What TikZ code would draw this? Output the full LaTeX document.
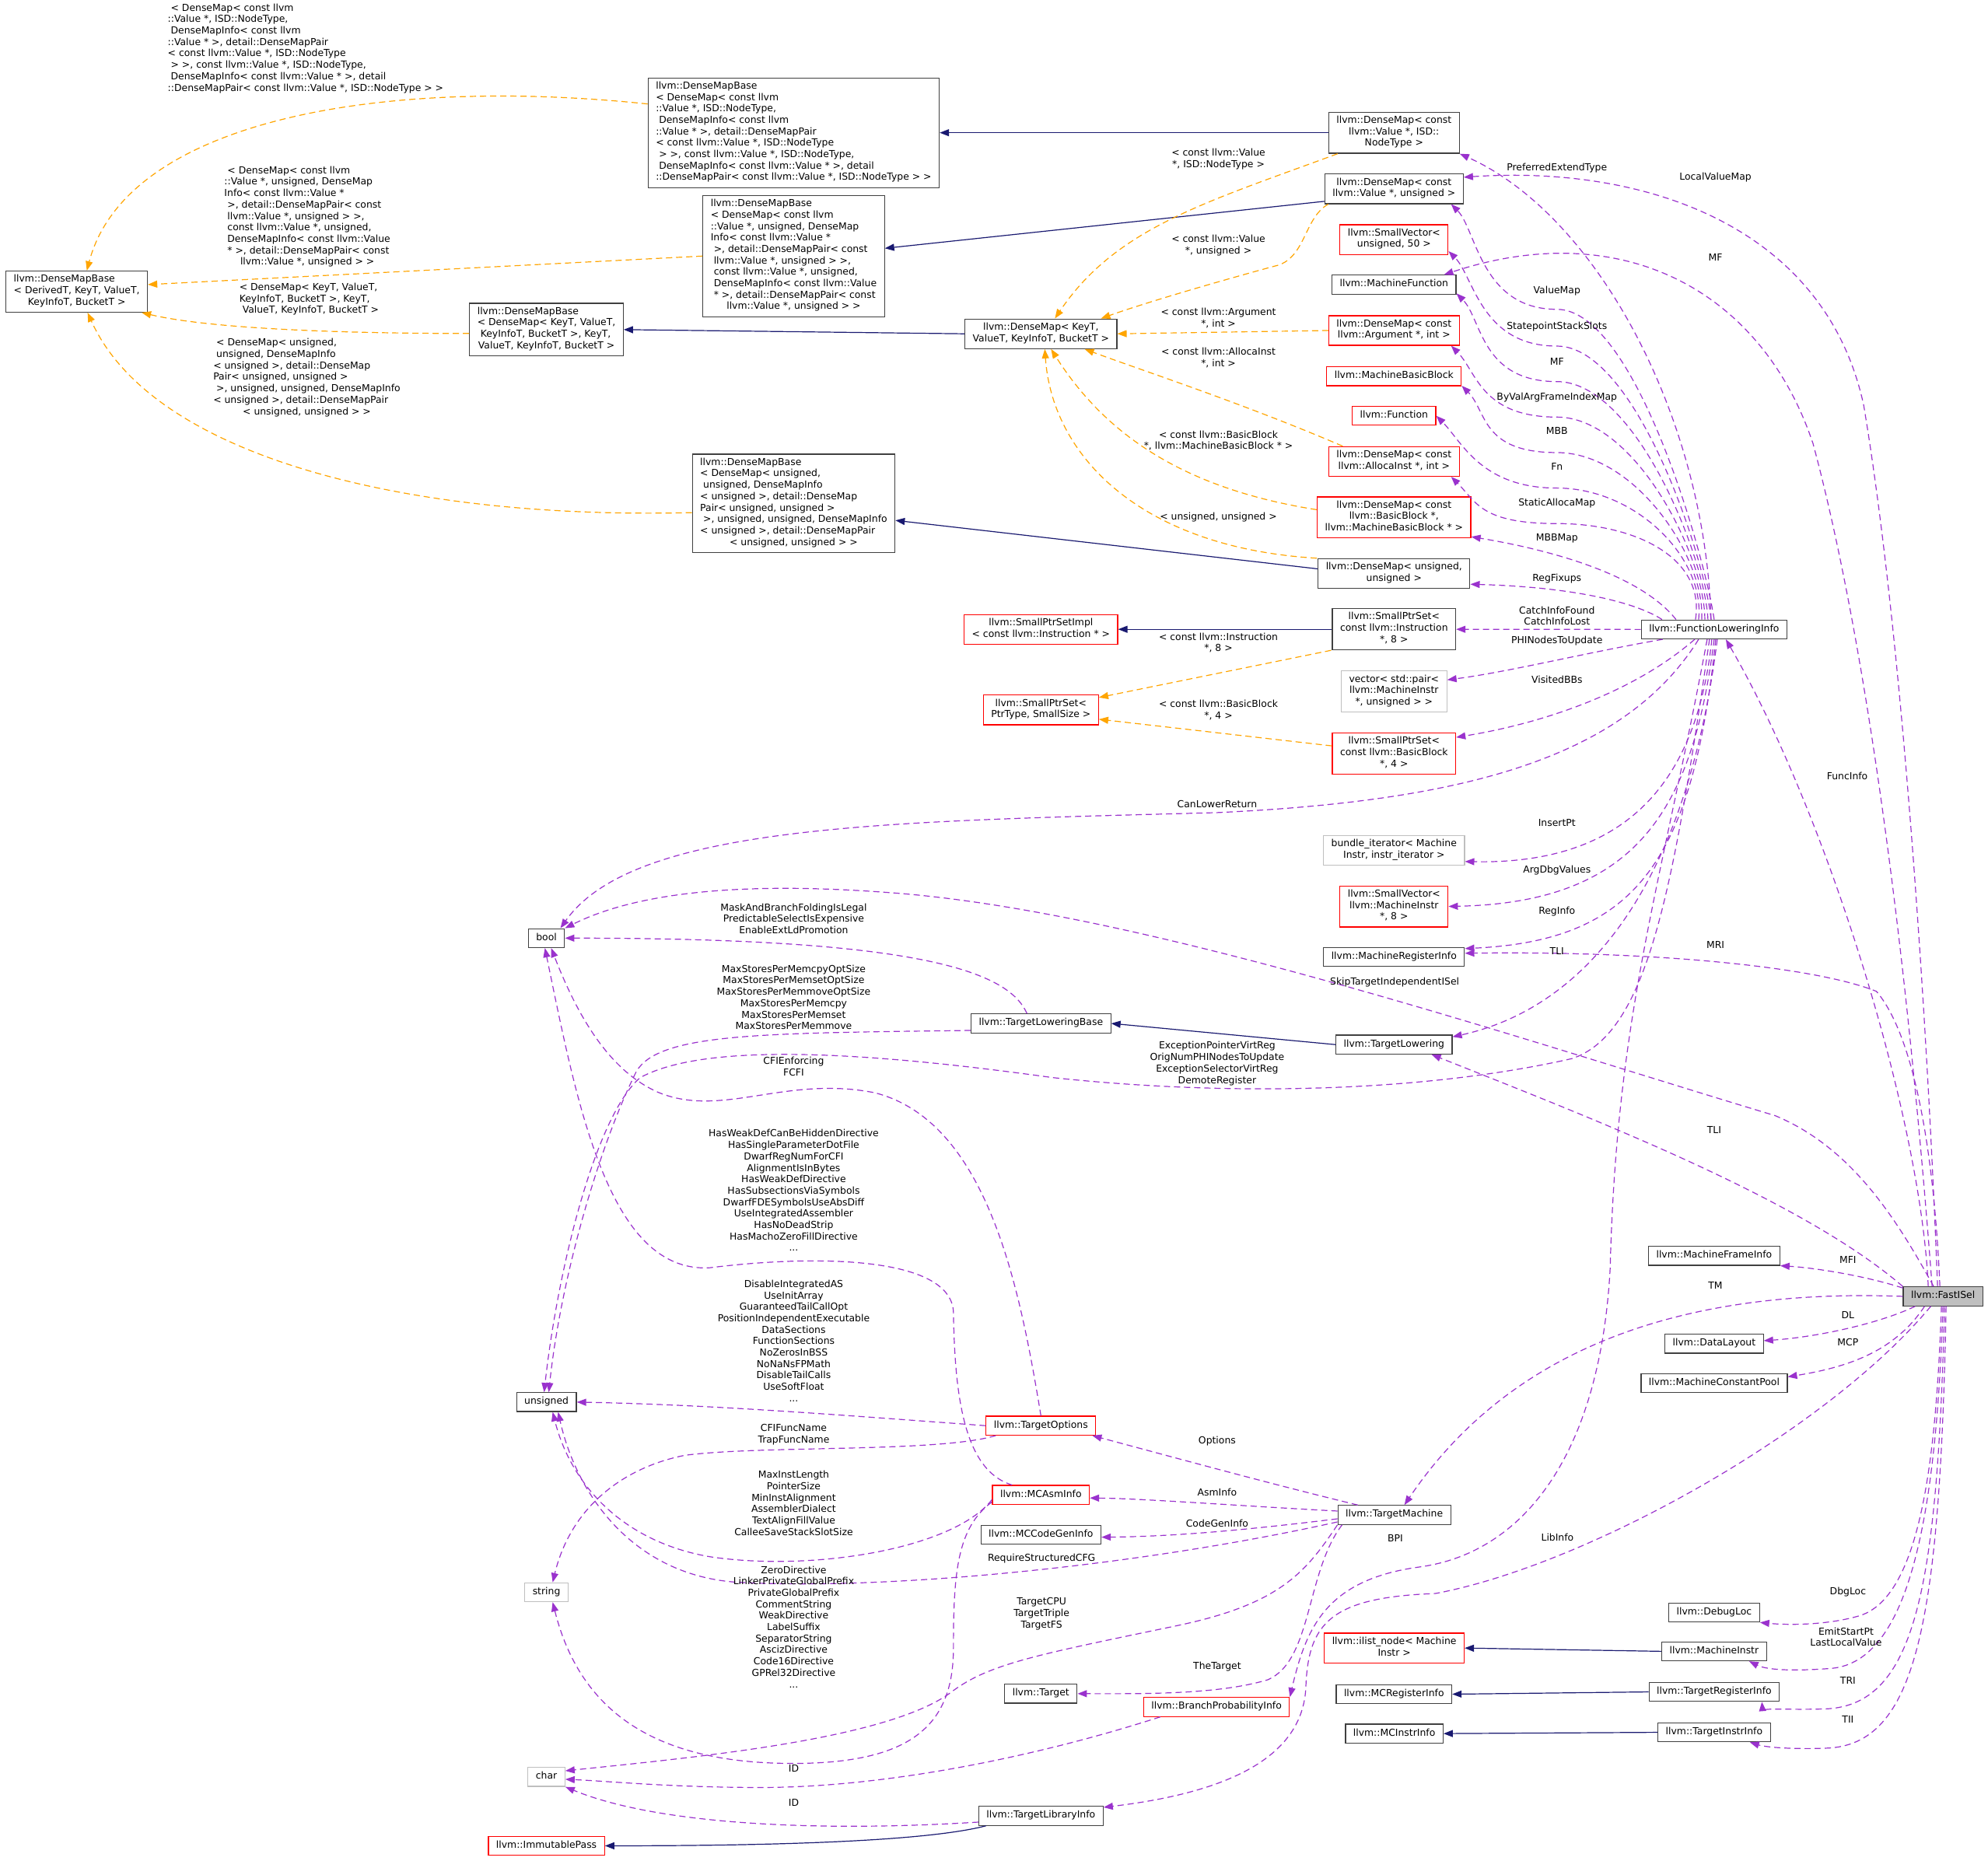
\documentclass[tikz,border=0pt]{standalone}
\usepackage{fontspec}
\setmainfont{DejaVu Sans}
\usetikzlibrary{arrows.meta}
\definecolor{inheritc}{HTML}{191970}
\definecolor{tmplc}{HTML}{FFA500}
\definecolor{usec}{HTML}{9A32CD}
\definecolor{boxline}{HTML}{404040}
\definecolor{redline}{HTML}{FF0000}
\definecolor{grayline}{HTML}{BFBFBF}
\newcommand{\gfont}{\fontsize{12.4pt}{14.7pt}\selectfont}

\begin{document}
\begin{tikzpicture}[x=1.63pt, y=-1.63pt,
  cls/.style={draw=boxline, line width=1.2pt, fill=white, font=\gfont, align=center,
    inner xsep=10pt, inner ysep=4.8pt, execute at begin node=\strut, execute at end node=\strut},
  clsleft/.style={cls, align=left},
  clsred/.style={cls, draw=redline},
  clsgray/.style={cls, draw=grayline},
  clsself/.style={cls, fill=grayline},
  elbl/.style={font=\gfont, align=center, inner sep=0pt,
    execute at begin node=\strut, execute at end node=\strut},
  elblleft/.style={elbl, align=left},
  inherit/.style={draw=inheritc, line width=1.2pt, -{Triangle[length=12pt,width=9pt]}},
  tmpl/.style={draw=tmplc, line width=1.2pt, dash pattern=on 8pt off 5pt, -{Triangle[length=12pt,width=9pt]}},
  usage/.style={draw=usec, line width=1.2pt, dash pattern=on 8pt off 5pt, -{Triangle[length=12pt,width=9pt]}}]

  \fill[white] (0,0) rectangle (1568,1468);

  % DenseMap family
  \node[clsleft] (dmbBase) at (60.5,230) {llvm::DenseMapBase\\< DerivedT, KeyT, ValueT,\\\hfil KeyInfoT, BucketT >};
  \node[clsleft] (dmbValISD) at (626,104.7) {llvm::DenseMapBase\\< DenseMap< const llvm\\::Value *, ISD::NodeType,\\\ DenseMapInfo< const llvm\\::Value * >, detail::DenseMapPair\\< const llvm::Value *, ISD::NodeType\\\ > >, const llvm::Value *, ISD::NodeType,\\\ DenseMapInfo< const llvm::Value * >, detail\\\hfil::DenseMapPair< const llvm::Value *, ISD::NodeType > >};
  \node[clsleft] (dmbValUns) at (626,202) {llvm::DenseMapBase\\< DenseMap< const llvm\\::Value *, unsigned, DenseMap\\Info< const llvm::Value *\\\ >, detail::DenseMapPair< const\\\ llvm::Value *, unsigned > >,\\\ const llvm::Value *, unsigned,\\\ DenseMapInfo< const llvm::Value\\\ * >, detail::DenseMapPair< const\\\hfil llvm::Value *, unsigned > >};
  \node[clsleft] (dmbKey) at (431,260) {llvm::DenseMapBase\\< DenseMap< KeyT, ValueT,\\\ KeyInfoT, BucketT >, KeyT,\\\hfil ValueT, KeyInfoT, BucketT >};
  \node[clsleft] (dmbUns) at (626,397) {llvm::DenseMapBase\\< DenseMap< unsigned,\\\ unsigned, DenseMapInfo\\< unsigned >, detail::DenseMap\\Pair< unsigned, unsigned >\\\ >, unsigned, unsigned, DenseMapInfo\\< unsigned >, detail::DenseMapPair\\\hfil< unsigned, unsigned > >};
  \node[cls] (dmKey) at (821,263.3) {llvm::DenseMap< KeyT,\\ValueT, KeyInfoT, BucketT >};

  % members of FunctionLoweringInfo
  \node[cls] (dmValISD) at (1099.5,104.7) {llvm::DenseMap< const\\llvm::Value *, ISD::\\NodeType >};
  \node[cls] (dmValUns) at (1099.5,149) {llvm::DenseMap< const\\llvm::Value *, unsigned >};
  \node[clsred] (svUns50) at (1099.5,189) {llvm::SmallVector<\\unsigned, 50 >};
  \node[cls] (mFunc) at (1099.5,224.5) {llvm::MachineFunction};
  \node[clsred] (dmArg) at (1099.5,260.7) {llvm::DenseMap< const\\llvm::Argument *, int >};
  \node[clsred] (mbb) at (1099.5,296.8) {llvm::MachineBasicBlock};
  \node[clsred] (func) at (1099.5,328) {llvm::Function};
  \node[clsred] (dmAlloca) at (1099.5,364) {llvm::DenseMap< const\\llvm::AllocaInst *, int >};
  \node[clsred] (dmBB) at (1099.5,408.2) {llvm::DenseMap< const\\llvm::BasicBlock *,\\llvm::MachineBasicBlock * >};
  \node[cls] (dmUns) at (1099.5,452.4) {llvm::DenseMap< unsigned,\\unsigned >};
  \node[cls] (spsInstr) at (1099.5,496.4) {llvm::SmallPtrSet<\\const llvm::Instruction\\{}*, 8 >};
  \node[clsgray] (vecPair) at (1099.5,545.5) {vector< std::pair<\\llvm::MachineInstr\\{}*, unsigned > >};
  \node[clsred] (spsBB) at (1099.5,594.5) {llvm::SmallPtrSet<\\const llvm::BasicBlock\\{}*, 4 >};
  \node[clsgray] (bundleIt) at (1099.5,671) {bundle\_iterator< Machine\\Instr, instr\_iterator >};
  \node[clsred] (svMI) at (1099.5,715) {llvm::SmallVector<\\llvm::MachineInstr\\{}*, 8 >};
  \node[cls] (mri) at (1099.5,755) {llvm::MachineRegisterInfo};
  \node[cls] (tl) at (1099.5,824) {llvm::TargetLowering};
  \node[cls] (fli) at (1352,496.5) {llvm::FunctionLoweringInfo};

  % left and middle columns
  \node[clsred] (spsImpl) at (821,496.4) {llvm::SmallPtrSetImpl\\< const llvm::Instruction * >};
  \node[clsred] (spsT) at (821,560) {llvm::SmallPtrSet<\\PtrType, SmallSize >};
  \node[cls] (bool) at (431,740) {bool};
  \node[cls] (tlb) at (821,807.3) {llvm::TargetLoweringBase};
  \node[cls] (unsigned) at (431,1106) {unsigned};
  \node[clsred] (tOpts) at (821,1124.6) {llvm::TargetOptions};
  \node[clsred] (mcAsm) at (821,1179.2) {llvm::MCAsmInfo};
  \node[cls] (mcCG) at (821,1210.7) {llvm::MCCodeGenInfo};
  \node[clsgray] (string) at (431,1256) {string};
  \node[cls] (target) at (821,1336) {llvm::Target};
  \node[clsred] (bpi) at (959.5,1346.5) {llvm::BranchProbabilityInfo};
  \node[clsgray] (char) at (431,1401.7) {char};
  \node[cls] (tli) at (821,1432.4) {llvm::TargetLibraryInfo};
  \node[clsred] (immPass) at (431,1456) {llvm::ImmutablePass};
  \node[cls] (tm) at (1099.7,1195) {llvm::TargetMachine};

  % right column
  \node[cls] (mfi) at (1352,990.6) {llvm::MachineFrameInfo};
  \node[clsself] (fastISel) at (1532.5,1022.6) {llvm::FastISel};
  \node[cls] (dl) at (1352,1060) {llvm::DataLayout};
  \node[cls] (mcp) at (1352,1091) {llvm::MachineConstantPool};
  \node[cls] (dbgLoc) at (1352,1272) {llvm::DebugLoc};
  \node[cls] (mInstr) at (1352,1302.6) {llvm::MachineInstr};
  \node[clsred] (ilist) at (1099.7,1300) {llvm::ilist\_node< Machine\\Instr >};
  \node[cls] (tri) at (1352,1334.6) {llvm::TargetRegisterInfo};
  \node[cls] (mcRI) at (1099.5,1336.4) {llvm::MCRegisterInfo};
  \node[cls] (tii) at (1352,1366.5) {llvm::TargetInstrInfo};
  \node[cls] (mcII) at (1099.7,1367.5) {llvm::MCInstrInfo};

  % inheritance
  \draw[inherit] (dmValISD.west) -- (dmbValISD.east);
  \draw[inherit] ([yshift=-16pt]dmValUns.west) -- ([yshift=10pt]dmbValUns.east);
  \draw[inherit] (dmKey.west) -- (dmbKey.east);
  \draw[inherit] ([yshift=6pt]dmUns.west) -- ([yshift=-22pt]dmbUns.east);
  \draw[inherit] (spsInstr.west) -- (spsImpl.east);
  \draw[inherit] (tl.west) -- (tlb.east);
  \draw[inherit] (mInstr.west) -- (ilist.east);
  \draw[inherit] (tri.west) -- (mcRI.east);
  \draw[inherit] (tii.west) -- (mcII.east);
  \draw[inherit] ([xshift=10pt]tli.south west) .. controls (740,1450) and (650,1456) .. (immPass.east);

  % template instances
  \draw[tmpl] ([yshift=37pt]dmbValISD.west) .. controls (300,60) and (100,95) .. ([xshift=13pt]dmbBase.north);
  \draw[tmpl] (dmbValUns.west) -- ([yshift=9pt]dmbBase.east);
  \draw[tmpl] ([yshift=-5pt]dmbKey.west) .. controls (250,263) and (160,258) .. ([xshift=-8pt]dmbBase.south east);
  \draw[tmpl] ([yshift=-12pt]dmbUns.west) .. controls (320,410) and (120,360) .. ([xshift=14pt]dmbBase.south);
  \draw[tmpl] ([xshift=12pt]dmValISD.south west) .. controls (950,160) and (880,180) .. ([xshift=18pt]dmKey.north);
  \draw[tmpl] ([xshift=5pt]dmValUns.south west) .. controls (1028,172) and (1030,205) .. (1005,210) .. controls (950,225) and (900,240) .. ([xshift=-21pt]dmKey.north east);
  \draw[tmpl] (dmArg.west) -- (dmKey.east);
  \draw[tmpl] ([xshift=-66pt]dmAlloca.north) .. controls (980,318) and (900,292) .. ([xshift=-42pt]dmKey.south east);
  \draw[tmpl] ([yshift=10pt]dmBB.west) .. controls (930,385) and (870,340) .. ([xshift=13pt]dmKey.south);
  \draw[tmpl] ([xshift=-1pt]dmUns.north west) .. controls (900,432) and (830,360) .. ([xshift=5pt]dmKey.south);
  \draw[tmpl] ([xshift=-1pt]spsInstr.south west) -- ([yshift=16pt]spsT.east);
  \draw[tmpl] ([yshift=10pt]spsBB.west) -- ([yshift=-12pt]spsT.east);

  % FunctionLoweringInfo members
  \draw[usage] ([xshift=-4pt]fli.north) .. controls (1345,330) and (1260,170) .. (dmValISD.south east);
  \foreach \tgt/\cy/\xs in {dmValUns.-15/244/0, svUns50.-12/273/-4, mFunc.-8/301/-8, dmArg.-15/329/-12,
                            mbb.-8/357/-16, func.east/385/-20, dmAlloca.-15/413/-24}
    \draw[usage] ([xshift=\xs pt]fli.north) .. controls (1345,440) and (1290,\cy) .. (1228,\cy)
      .. controls (1168,\cy) and +(20,20) .. (\tgt);
  \draw[usage] ([xshift=-49pt]fli.north) .. controls (1295,455) and (1230,435) .. (dmBB.-14);
  \draw[usage] ([xshift=-67pt]fli.north) .. controls (1290,475) and (1240,463) .. (dmUns.-8);
  \draw[usage] (fli.west) -- (spsInstr.east);
  \draw[usage] ([xshift=28pt]fli.south west) .. controls (1250,515) and (1190,530) .. ([yshift=15pt]vecPair.east);
  \draw[usage] ([xshift=-25pt]fli.south) .. controls (1290,545) and (1220,570) .. ([yshift=21pt]spsBB.east);
  \draw[usage] ([xshift=-20pt]fli.south) .. controls (1280,600) and (1150,632) .. (960,641)
    .. controls (700,648) and (500,650) .. ([xshift=18pt]bool.north);
  \draw[usage] ([xshift=-3pt]fli.south) .. controls (1338,620) and (1280,682) .. ([yshift=-14pt]bundleIt.east);
  \draw[usage] (fli.south) .. controls (1335,640) and (1290,712) .. (svMI.east);
  \draw[usage] ([xshift=2pt]fli.south) .. controls (1335,680) and (1290,742) .. ([yshift=11pt]mri.east);
  \draw[usage] ([xshift=4pt]fli.south) .. controls (1330,700) and (1250,795) .. ([yshift=10pt]tl.east);
  \draw[usage] ([xshift=-6pt]fli.south) .. controls (1320,700) and (1300,815) .. (1240,835)
    .. controls (1130,860) and (980,866) .. (830,850) .. controls (700,832) and (560,820) .. (505,850)
    .. controls (470,880) and (440,1000) .. ([xshift=-3pt]unsigned.north);
  \draw[usage] ([xshift=-9pt]fli.south) .. controls (1310,700) and (1275,800) .. (1270,1000)
    .. controls (1262,1150) and (1200,1225) .. (1120,1236) .. controls (1045,1246) and (1030,1285) .. (bpi.north east);

  % FastISel members
  \draw[usage] ([xshift=-7pt]fastISel.north) .. controls (1520,800) and (1500,500) .. (1470,320)
    .. controls (1440,180) and (1300,130) .. ([yshift=15pt]dmValUns.east);
  \draw[usage] ([xshift=-14pt]fastISel.north) .. controls (1500,700) and (1465,480) .. (1430,350)
    .. controls (1390,230) and (1280,170) .. ([xshift=-16pt]mFunc.north east);
  \draw[usage] ([xshift=-19pt]fastISel.north) .. controls (1515,880) and (1440,640) .. ([xshift=15pt]fli.south);
  \draw[usage] ([xshift=-4pt]fastISel.north) .. controls (1525,900) and (1508,815) .. (1480,782)
    .. controls (1430,762) and (1300,750) .. ([yshift=5pt]mri.east);
  \draw[usage] ([xshift=-12pt]fastISel.north) .. controls (1495,960) and (1460,905) .. (1400,880)
    .. controls (1200,820) and (900,718) .. (700,704) .. controls (580,695) and (500,705) .. (bool.north east);
  \draw[usage] (fastISel.north west) .. controls (1420,945) and (1250,880) .. ([xshift=-27pt]tl.south east);
  \draw[usage] ([yshift=-2pt]fastISel.north west) .. controls (1470,1006) and (1430,1000) .. (mfi.south east);
  \draw[usage] (fastISel.west) .. controls (1300,1015) and (1180,1080) .. ([xshift=13pt]tm.north);
  \draw[usage] ([xshift=16pt]fastISel.south west) .. controls (1480,1045) and (1430,1055) .. ([yshift=4pt]dl.east);
  \draw[usage] ([xshift=28pt]fastISel.south west) .. controls (1495,1065) and (1460,1078) .. ([yshift=8pt]mcp.east);
  \draw[usage] ([xshift=36pt]fastISel.south west) .. controls (1440,1130) and (1250,1235) .. (1132,1257)
    .. controls (1050,1260) and (1032,1280) .. (1030,1330) .. controls (1028,1390) and (960,1415) .. ([yshift=11pt]tli.east);
  \draw[usage] ([xshift=-2pt]fastISel.south) .. controls (1527,1150) and (1515,1262) .. (1465,1275)
    .. controls (1440,1282) and (1410,1282) .. (dbgLoc.south east);
  \draw[usage] (fastISel.south) .. controls (1527,1200) and (1505,1310) .. (1445,1316)
    .. controls (1420,1318) and (1395,1318) .. ([xshift=-23pt]mInstr.south east);
  \draw[usage] ([xshift=2pt]fastISel.south) .. controls (1528,1250) and (1512,1345) .. (1440,1348)
    .. controls (1410,1349) and (1390,1347) .. ([xshift=-23pt]tri.south east);
  \draw[usage] ([xshift=4pt]fastISel.south) .. controls (1530,1280) and (1512,1377) .. (1440,1379)
    .. controls (1410,1380) and (1392,1378) .. ([xshift=-27pt]tii.south east);

  % target lowering, options, asm info, target machine
  \draw[usage] ([xshift=-18pt]tlb.north) .. controls (795,765) and (720,740) .. (bool.east);
  \draw[usage] ([yshift=-9pt]tlb.west) .. controls (600,815) and (520,815) .. (502,845)
    .. controls (472,905) and (442,1010) .. ([xshift=3pt]unsigned.north);
  \draw[usage] (tOpts.north) .. controls (805,1020) and (780,885) .. (690,862)
    .. controls (620,848) and (570,882) .. (520,862) .. controls (480,845) and (455,800) .. ([xshift=6pt]bool.south);
  \draw[usage] ([xshift=-37pt]mcAsm.north) .. controls (760,1160) and (753,1100) .. (752,1035)
    .. controls (750,990) and (640,990) .. (560,1000) .. controls (480,1005) and (455,870) .. ([xshift=-2pt]bool.south);
  \draw[usage] (tOpts.west) .. controls (660,1116) and (560,1108) .. (unsigned.east);
  \draw[usage] ([xshift=13pt]tOpts.south west) .. controls (740,1146) and (600,1140) .. (540,1148)
    .. controls (490,1158) and (450,1190) .. ([xshift=8pt]string.north);
  \draw[usage] ([yshift=-6pt]mcAsm.west) .. controls (752,1222) and (640,1240) .. (560,1228)
    .. controls (490,1216) and (450,1170) .. ([xshift=8pt]unsigned.south);
  \draw[usage] ([yshift=-9pt]tm.west) .. controls (900,1235) and (700,1255) .. (580,1248)
    .. controls (500,1242) and (455,1180) .. ([xshift=15pt]unsigned.south);
  \draw[usage] ([yshift=-9pt]mcAsm.west) .. controls (755,1205) and (752,1240) .. (752,1300)
    .. controls (752,1360) and (720,1390) .. (630,1391) .. controls (530,1392) and (460,1360) .. ([xshift=8pt]string.south);
  \draw[usage] (tm.south west) .. controls (1030,1240) and (1010,1265) .. (930,1282)
    .. controls (820,1305) and (780,1312) .. (750,1335) .. controls (700,1372) and (550,1386) .. (char.18);
  \draw[usage] ([xshift=22pt]bpi.south west) .. controls (820,1385) and (700,1410) .. (600,1410)
    .. controls (530,1410) and (480,1405) .. ([yshift=-3pt]char.east);
  \draw[usage] ([yshift=-8pt]tli.west) .. controls (650,1445) and (520,1440) .. (char.south east);
  \draw[usage] ([xshift=-47pt]tm.north) .. controls (1000,1170) and (920,1148) .. ([xshift=-5pt]tOpts.south east);
  \draw[usage] ([yshift=5pt]tm.west) .. controls (980,1188) and (900,1182) .. ([yshift=-4pt]mcAsm.east);
  \draw[usage] ([yshift=-5pt]tm.west) .. controls (990,1206) and (930,1212) .. ([yshift=-3pt]mcCG.east);
  \draw[usage] ([xshift=6pt]tm.south west) .. controls (1030,1240) and (1035,1310) .. (1000,1325)
    .. controls (960,1337) and (900,1336) .. (target.east);

  % template argument labels
  \node[elblleft] (lTa) at (241,38.7) {\ < DenseMap< const llvm\\::Value *, ISD::NodeType,\\\ DenseMapInfo< const llvm\\::Value * >, detail::DenseMapPair\\< const llvm::Value *, ISD::NodeType\\\ > >, const llvm::Value *, ISD::NodeType,\\\ DenseMapInfo< const llvm::Value * >, detail\\\hfil::DenseMapPair< const llvm::Value *, ISD::NodeType > >};
  \node[elblleft] (lTb) at (242.4,171.5) {\ < DenseMap< const llvm\\::Value *, unsigned, DenseMap\\Info< const llvm::Value *\\\ >, detail::DenseMapPair< const\\\ llvm::Value *, unsigned > >,\\\ const llvm::Value *, unsigned,\\\ DenseMapInfo< const llvm::Value\\\ * >, detail::DenseMapPair< const\\\hfil llvm::Value *, unsigned > >};
  \node[elblleft] (lTc) at (243.8,236.6) {< DenseMap< KeyT, ValueT,\\KeyInfoT, BucketT >, KeyT,\\\ ValueT, KeyInfoT, BucketT >};
  \node[elblleft] (lTd) at (242,298.4) {\ < DenseMap< unsigned,\\\ unsigned, DenseMapInfo\\< unsigned >, detail::DenseMap\\Pair< unsigned, unsigned >\\\ >, unsigned, unsigned, DenseMapInfo\\< unsigned >, detail::DenseMapPair\\\hfil< unsigned, unsigned > >};
  \node[elbl] (lTe) at (961,126) {< const llvm::Value\\{}*, ISD::NodeType >};
  \node[elbl] (lTf) at (961,194) {< const llvm::Value\\{}*, unsigned >};
  \node[elbl] (lTg) at (961,252) {< const llvm::Argument\\{}*, int >};
  \node[elbl] (lTh) at (961,283) {< const llvm::AllocaInst\\{}*, int >};
  \node[elbl] (lTi) at (961,348.5) {< const llvm::BasicBlock\\{}*, llvm::MachineBasicBlock * >};
  \node[elbl] (lTj) at (961,408) {< unsigned, unsigned >};
  \node[elbl] (lTk) at (961,508) {< const llvm::Instruction\\{}*, 8 >};
  \node[elbl] (lTl) at (961,561) {< const llvm::BasicBlock\\{}*, 4 >};

  % member labels
  \node[elbl] (lPref) at (1228,133) {PreferredExtendType};
  \node[elbl] (lLVM) at (1353,140) {LocalValueMap};
  \node[elbl] (lMFb) at (1353,204) {MF};
  \node[elbl] (lVM) at (1228,230) {ValueMap};
  \node[elbl] (lSSS) at (1228,258) {StatepointStackSlots};
  \node[elbl] (lMFa) at (1228,286) {MF};
  \node[elbl] (lBVA) at (1228,314) {ByValArgFrameIndexMap};
  \node[elbl] (lMBB) at (1228,341) {MBB};
  \node[elbl] (lFn) at (1228,369) {Fn};
  \node[elbl] (lSAM) at (1228,397) {StaticAllocaMap};
  \node[elbl] (lMBBMap) at (1228,425) {MBBMap};
  \node[elbl] (lRF) at (1228,457) {RegFixups};
  \node[elbl] (lCIF) at (1228,487) {CatchInfoFound\\CatchInfoLost};
  \node[elbl] (lPHI) at (1228,506) {PHINodesToUpdate};
  \node[elbl] (lVBB) at (1228,537) {VisitedBBs};
  \node[elbl] (lFI) at (1457,613) {FuncInfo};
  \node[elbl] (lCLR) at (960,635) {CanLowerReturn};
  \node[elbl] (lIP) at (1228,650) {InsertPt};
  \node[elbl] (lADV) at (1228,687) {ArgDbgValues};
  \node[elbl] (lRI) at (1228,719) {RegInfo};
  \node[elbl] (lMask) at (626,726) {MaskAndBranchFoldingIsLegal\\PredictableSelectIsExpensive\\EnableExtLdPromotion};
  \node[elbl] (lMRI) at (1353,746) {MRI};
  \node[elbl] (lTLIa) at (1228,751) {TLI};
  \node[elbl] (lSkip) at (1100,775) {SkipTargetIndependentISel};
  \node[elbl] (lMaxSt) at (626,788) {MaxStoresPerMemcpyOptSize\\MaxStoresPerMemsetOptSize\\MaxStoresPerMemmoveOptSize\\MaxStoresPerMemcpy\\MaxStoresPerMemset\\MaxStoresPerMemmove};
  \node[elbl] (lExc) at (960,839.5) {ExceptionPointerVirtReg\\OrigNumPHINodesToUpdate\\ExceptionSelectorVirtReg\\DemoteRegister};
  \node[elbl] (lCFI) at (626,842.7) {CFIEnforcing\\FCFI};
  \node[elbl] (lTLIb) at (1352,892) {TLI};
  \node[elbl] (lHasWeak) at (626,940.4) {HasWeakDefCanBeHiddenDirective\\HasSingleParameterDotFile\\DwarfRegNumForCFI\\AlignmentIsInBytes\\HasWeakDefDirective\\HasSubsectionsViaSymbols\\DwarfFDESymbolsUseAbsDiff\\UseIntegratedAssembler\\HasNoDeadStrip\\HasMachoZeroFillDirective\\...};
  \node[elbl] (lMFI) at (1457.5,995) {MFI};
  \node[elbl] (lTM) at (1353,1015) {TM};
  \node[elbl] (lDL) at (1457.5,1038) {DL};
  \node[elbl] (lMCP) at (1457.5,1060) {MCP};
  \node[elbl] (lDisable) at (626,1059) {DisableIntegratedAS\\UseInitArray\\GuaranteedTailCallOpt\\PositionIndependentExecutable\\DataSections\\FunctionSections\\NoZerosInBSS\\NoNaNsFPMath\\DisableTailCalls\\UseSoftFloat\\...};
  \node[elbl] (lCFIFn) at (626,1132.4) {CFIFuncName\\TrapFuncName};
  \node[elbl] (lOpt) at (960,1137) {Options};
  \node[elbl] (lMaxIL) at (626,1187) {MaxInstLength\\PointerSize\\MinInstAlignment\\AssemblerDialect\\TextAlignFillValue\\CalleeSaveStackSlotSize};
  \node[elbl] (lAsm) at (960,1178.3) {AsmInfo};
  \node[elbl] (lCGI) at (960,1203) {CodeGenInfo};
  \node[elbl] (lBPI) at (1100.5,1214.4) {BPI};
  \node[elbl] (lLib) at (1228.4,1213.5) {LibInfo};
  \node[elbl] (lRSC) at (821.5,1230) {RequireStructuredCFG};
  \node[elbl] (lZero) at (626,1284.6) {ZeroDirective\\LinkerPrivateGlobalPrefix\\PrivateGlobalPrefix\\CommentString\\WeakDirective\\LabelSuffix\\SeparatorString\\AscizDirective\\Code16Directive\\GPRel32Directive\\...};
  \node[elbl] (lTCPU) at (821.5,1273.5) {TargetCPU\\TargetTriple\\TargetFS};
  \node[elbl] (lDbg) at (1457.5,1256) {DbgLoc};
  \node[elbl] (lEmit) at (1456,1292.5) {EmitStartPt\\LastLocalValue};
  \node[elbl] (lTheT) at (960,1314.7) {TheTarget};
  \node[elbl] (lTRI) at (1457.5,1326.5) {TRI};
  \node[elbl] (lTII) at (1457.5,1357) {TII};
  \node[elbl] (lIDa) at (626,1396) {ID};
  \node[elbl] (lIDb) at (626,1423) {ID};
\end{tikzpicture}
\end{document}
